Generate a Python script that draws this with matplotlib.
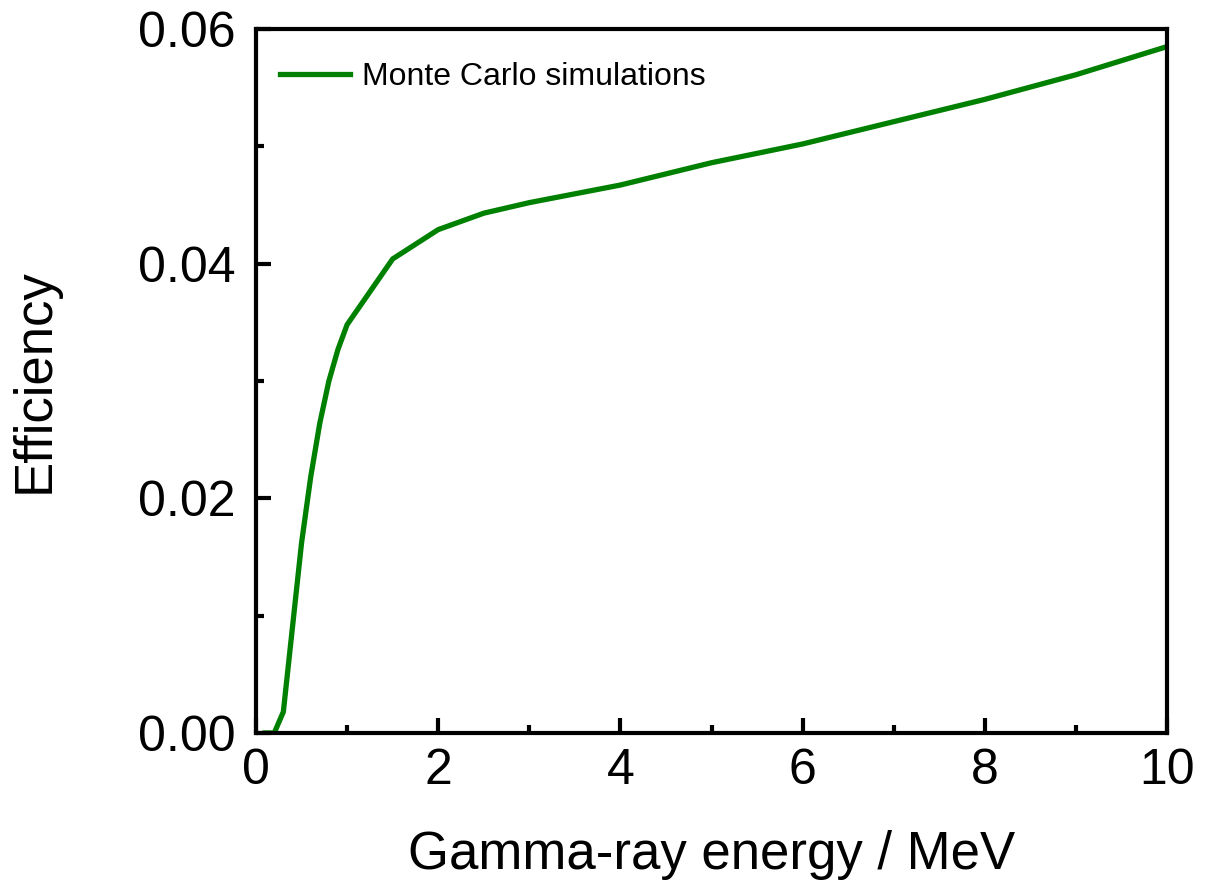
import matplotlib.pyplot as plt
from matplotlib.ticker import MultipleLocator

plt.rcParams['font.family'] = ['Liberation Sans', 'DejaVu Sans']

# simulated full-energy efficiency vs gamma energy
energy = [0.1, 0.2, 0.3, 0.5, 0.6, 0.7, 0.8, 0.9, 1.0, 1.5, 2.0, 2.5, 3.0,
          4.0, 5.0, 6.0, 7.0, 8.0, 9.0, 10.0]
efficiency = [0.0, 0.0, 0.0018, 0.0162, 0.0218, 0.0264, 0.0300, 0.0327,
              0.0348, 0.0404, 0.0429, 0.0443, 0.0452, 0.0467, 0.0486,
              0.0502, 0.0521, 0.0540, 0.0561, 0.0585]

fig = plt.figure(figsize=(12.07, 8.86), dpi=100)
ax = fig.add_axes([0.2121, 0.1727, 0.7548, 0.7946])

ax.plot(energy, efficiency, color='green', lw=3.8,
        label='Monte Carlo simulations')

ax.set_xlim(0, 10)
ax.set_ylim(0, 0.06)
ax.xaxis.set_major_locator(MultipleLocator(2))
ax.xaxis.set_minor_locator(MultipleLocator(1))
ax.yaxis.set_major_locator(MultipleLocator(0.02))
ax.yaxis.set_minor_locator(MultipleLocator(0.01))
ax.yaxis.set_major_formatter(lambda v, p: f'{v:.2f}')

for s in ax.spines.values():
    s.set_linewidth(3)
ax.tick_params(which='both', direction='in', width=3, top=False, right=False,
               labelsize=36)
ax.tick_params(which='major', length=11)
ax.tick_params(which='minor', length=6)
ax.tick_params(axis='x', pad=11)
ax.tick_params(axis='y', pad=15)

ax.set_xlabel('Gamma-ray energy / MeV', fontsize=38, labelpad=26)
ax.set_ylabel('Efficiency', fontsize=38, labelpad=56)

ax.legend(loc='center left', frameon=False, fontsize=23, handlelength=2.2,
          handletextpad=0.38, borderpad=0, borderaxespad=0,
          bbox_to_anchor=(0.026, 0.932))

fig.savefig('out.png', dpi=100)
